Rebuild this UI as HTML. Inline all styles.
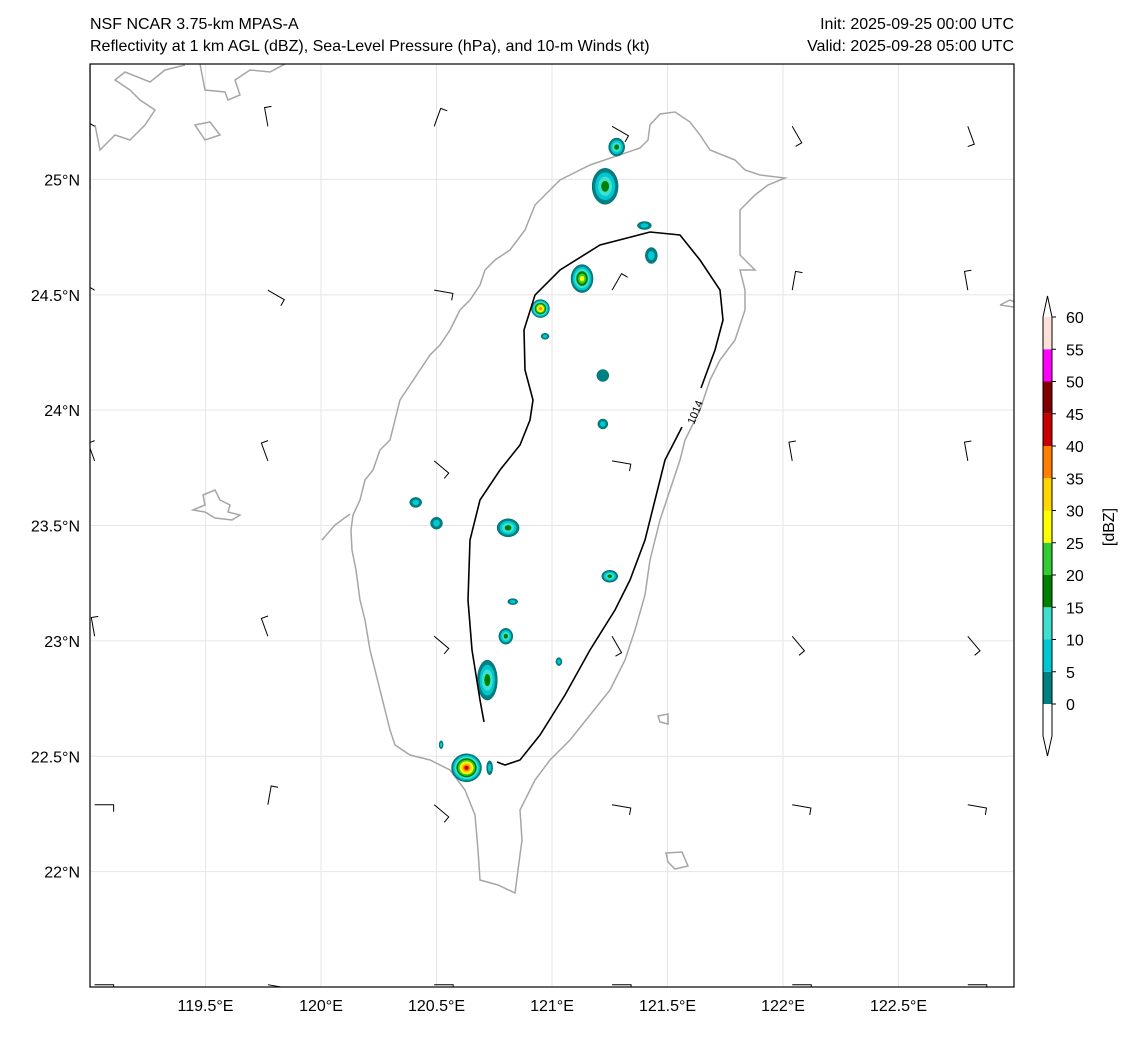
<!DOCTYPE html>
<html><head><meta charset="utf-8">
<style>
body{margin:0;background:#fff;font-family:"Liberation Sans","DejaVu Sans",sans-serif;}
svg text{font-family:"Liberation Sans","DejaVu Sans",sans-serif;}
</style></head>
<body>
<svg id="c" width="1133" height="1032" viewBox="0 0 1133 1032" xmlns="http://www.w3.org/2000/svg">
<rect width="1133" height="1032" fill="#fff"/>
<text x="90" y="29" font-size="16">NSF NCAR 3.75-km MPAS-A</text>
<text x="90" y="51" font-size="16">Reflectivity at 1 km AGL (dBZ), Sea-Level Pressure (hPa), and 10-m Winds (kt)</text>
<text x="1014" y="29" font-size="16" text-anchor="end">Init: 2025-09-25 00:00 UTC</text>
<text x="1014" y="51" font-size="16" text-anchor="end">Valid: 2025-09-28 05:00 UTC</text>
<defs><clipPath id="mc"><rect x="90" y="64" width="924" height="923"/></clipPath></defs>
<g id="grid"></g>
<g clip-path="url(#mc)">
<g fill="none" stroke="#a6a6a6" stroke-width="1.5">
<path d="M640,148 L590,165 L560,180 L545,195 L535,205 L525,230 L510,250 L495,260 L485,270 L480,285 L470,300 L460,310 L450,330 L440,345 L430,355 L420,370 L410,385 L400,400 L395,420 L390,440 L380,450 L373,470 L365,480 L360,500 L353,515 L351,530 L352,550 L356,570 L360,600 L365,620 L370,650 L375,670 L380,690 L385,710 L390,730 L395,745 L410,755 L430,760 L450,770 L465,790 L475,815 L478,850 L480,880 L498,885 L515,893 L518,870 L522,840 L520,810 L535,780 L550,760 L570,740 L590,715 L610,690 L625,660 L635,630 L645,595 L650,560 L660,520 L670,490 L680,460 L685,440 L700,410 L710,380 L720,360 L735,340 L745,310 L745,290 L740,270 L755,270 L740,255 L740,230 L740,210 L755,195 L768,185 L785,178 L760,175 L745,170 L735,160 L710,150 L700,135 L690,122 L675,112 L660,114 L650,125 L648,140 Z"/>
<path d="M193,510 L205,505 L203,495 L215,490 L220,500 L230,505 L228,512 L240,515 L232,520 L215,518 L205,512 Z"/>
<path d="M658,716 L668,714 L668,724 L660,722 Z"/>
<path d="M666,853 L682,852 L688,866 L675,869 L668,862 Z"/>
<path d="M90,64 L90,190 M95,125 L100,150 L115,135 L130,140 L145,125 L155,110 L140,100 L130,90 L115,80 L125,72 L150,82 L165,70 L185,65 M195,125 L210,122 L220,135 L205,140 Z M200,64 L205,90 L225,92 L228,100 L240,95 L235,80 L250,70 L270,72 L285,64 M322,540 L335,525 L350,514"/>
<path d="M1000,305 L1010,300 L1014,302 M1000,305 L1014,307"/>
</g>
<g id="refl"></g>
<g>
<path fill="none" stroke="#000" stroke-width="1.6" d="M484,722 L480,700 L472,650 L468,600 L470,540 L480,500 L500,470 L520,445 L530,420 L533,400 L525,370 L524,330 L535,295 L560,270 L600,245 L650,232 L680,235 L700,260 L720,290 L723,320 L715,350 L701,388 M682,427 L665,460 L655,500 L645,540 L630,580 L615,610 L590,650 L565,695 L540,735 L520,760 L505,765 L497,762"/>
<text x="0" y="0" font-size="11" transform="translate(694,425) rotate(-68)">1014</text>
</g>
<g id="barbs"></g>
</g>
<rect x="90" y="64" width="924" height="923" fill="none" stroke="#000" stroke-width="1.2"/>
<g id="ticks"></g>
<g id="cbar"></g>
</svg>
<script>
const lonTicks=[119.5,120,120.5,121,121.5,122,122.5];
const latTicks=[25,24.5,24,23.5,23,22.5,22];
const cbLevels=[0,5,10,15,20,25,30,35,40,45,50,55,60];
const cbColors=["#008080","#00c8d2","#40e0d0","#008000","#32cd32","#ffff00","#ffd700","#ff7f00","#c80000","#800000","#ff00ff","#ffe0d8"];
const cellLon=[121.28,121.23,121.40,121.43,121.13,120.95,120.97,121.22,121.22,120.81,120.41,120.50,121.25,120.80,120.72,120.63,120.73,120.83,121.03,120.52];
const cellLat=[25.14,24.97,24.80,24.67,24.57,24.44,24.32,24.15,23.94,23.49,23.60,23.51,23.28,23.02,22.83,22.45,22.45,23.17,22.91,22.55];
const cellMax=[20,20,10,10,30,40,10,5,8,20,10,10,20,20,20,45,10,10,8,10];
const cellRx=[8,13,7,6,11,9,4,6,5,11,6,6,8,7,10,15,3,5,3,2];
const cellRy=[9,18,4,8,14,9,3,6,5,9,5,6,6,8,20,14,7,3,4,4];
const barbLon=[119.02,119.77,120.49,121.26,122.04,122.80];
const barbLat=[25.23,24.52,23.78,23.02,22.29,21.51];
const barbDir=[
[300,350,20,120,150,160],
[300,120,100,30,10,350],
[340,340,130,100,350,350],
[350,340,130,150,140,140],
[90,10,130,100,100,100],
[90,100,90,90,90,90]];
const NS="http://www.w3.org/2000/svg";
const X0=90,X1=1014,Y0=64,Y1=987,LON0=119,LON1=123,LAT0=21.5,LAT1=25.5;
const xs=l=>X0+(l-LON0)/(LON1-LON0)*(X1-X0);
const ys=l=>Y1-(l-LAT0)/(LAT1-LAT0)*(Y1-Y0);
function mk(t,a,p){const e=document.createElementNS(NS,t);for(const k in a)e.setAttribute(k,a[k]);p.appendChild(e);return e;}
const grid=document.getElementById('grid'),ticks=document.getElementById('ticks');
lonTicks.forEach(v=>{const x=xs(v);
 const l=mk('line',{x1:x,x2:x,y1:Y0,y2:Y1,stroke:'#e6e6e6','stroke-width':1},grid);
 
 const t=mk('text',{x:x,y:1011,'font-size':16,'text-anchor':'middle'},ticks);t.textContent=v+'°E';
 });
latTicks.forEach(v=>{const y=ys(v);
 const l=mk('line',{x1:X0,x2:X1,y1:y,y2:y,stroke:'#e6e6e6','stroke-width':1},grid);
 
 const t=mk('text',{x:80,y:y+6,'font-size':16,'text-anchor':'end'},ticks);t.textContent=v+'°N';
 });
const refl=document.getElementById('refl');
cellLon.forEach((lo,i)=>{const cx=xs(lo),cy=ys(cellLat[i]);const n=Math.max(1,Math.ceil(cellMax[i]/5));
 const g=mk('g',{},refl);
 for(let k=0;k<n&&k<cbColors.length;k++){const f=1-k/(n+0.3);
  const e=mk('ellipse',{cx:cx,cy:cy,rx:Math.max(1,cellRx[i]*f),ry:Math.max(1,cellRy[i]*f),fill:cbColors[k],stroke:k==0?'#006060':'none','stroke-width':0.5},g);
  }});
const barbs=document.getElementById('barbs');
barbLat.forEach((la,r)=>barbLon.forEach((lo,c)=>{const x=xs(lo),y=ys(la);const d=barbDir[r][c]*Math.PI/180;
 const L=19,ex=x+Math.sin(d)*L,ey=y-Math.cos(d)*L;
 const tx=ex+Math.sin(d+Math.PI/2)*7,ty=ey-Math.cos(d+Math.PI/2)*7;
 const p=mk('path',{d:`M${x},${y} L${ex},${ey} L${tx},${ty}`,stroke:'#000','stroke-width':1,fill:'none'},barbs);
 }));
const cb=document.getElementById('cbar');const cx0=1043,cw=9,yb=704,yt=317,step=(yb-yt)/12;
cbColors.forEach((c,i)=>{const r=mk('rect',{x:cx0,y:yb-(i+1)*step,width:cw,height:step,fill:c},cb);
 });
const o=mk('path',{d:`M${cx0},${yb} L${cx0},${yt} L${cx0+cw/2},296 L${cx0+cw},${yt} L${cx0+cw},${yb} L${cx0+cw},736 L${cx0+cw/2},756 L${cx0},736 Z`,fill:'none',stroke:'#000','stroke-width':1},cb);

cbLevels.forEach((v,i)=>{const y=yb-i*step;mk('line',{x1:cx0+cw,x2:cx0+cw+4,y1:y,y2:y,stroke:'#000'},cb);
 const t=mk('text',{x:1066,y:y+6,'font-size':16},cb);t.textContent=v;
 });
const cl=mk('text',{x:0,y:0,'font-size':16,'text-anchor':'middle',transform:'translate(1114,527) rotate(-90)'},cb);cl.textContent='[dBZ]';

</script>
</body></html>
